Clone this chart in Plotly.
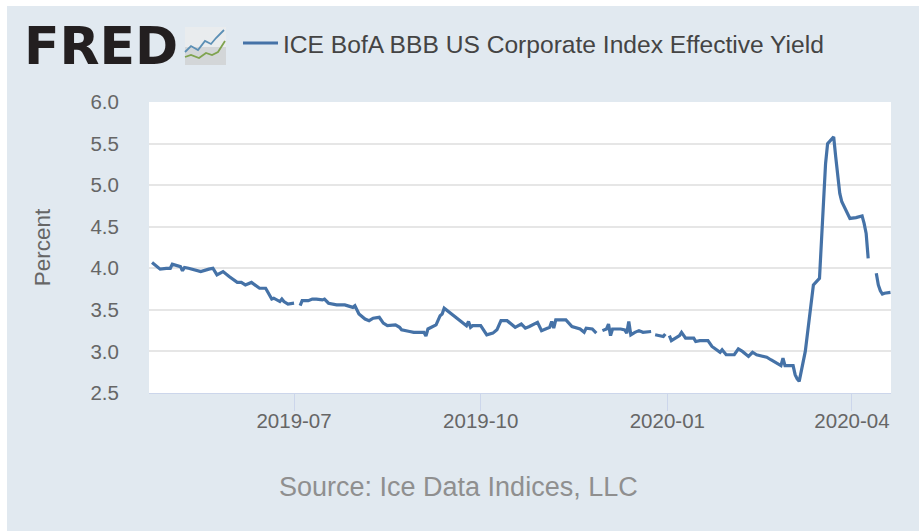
import plotly.graph_objects as go

dates = ["2019-04-22","2019-04-23","2019-04-24","2019-04-25","2019-04-26","2019-04-29","2019-05-01","2019-05-02","2019-05-03","2019-05-06","2019-05-07","2019-05-08","2019-05-10","2019-05-13","2019-05-16","2019-05-20","2019-05-22","2019-05-24","2019-05-27","2019-05-30","2019-06-03","2019-06-05","2019-06-07","2019-06-10","2019-06-12","2019-06-14","2019-06-17","2019-06-19","2019-06-20","2019-06-21","2019-06-24","2019-06-25","2019-06-26","2019-06-28","2019-07-01","2019-07-03","2019-07-04","2019-07-05","2019-07-08","2019-07-10","2019-07-12","2019-07-15","2019-07-16","2019-07-18","2019-07-22","2019-07-26","2019-07-30","2019-07-31","2019-08-02","2019-08-05","2019-08-07","2019-08-09","2019-08-12","2019-08-13","2019-08-14","2019-08-16","2019-08-20","2019-08-22","2019-08-23","2019-08-27","2019-08-29","2019-09-03","2019-09-04","2019-09-05","2019-09-09","2019-09-11","2019-09-12","2019-09-13","2019-09-17","2019-09-20","2019-09-24","2019-09-25","2019-09-26","2019-09-27","2019-10-01","2019-10-04","2019-10-07","2019-10-09","2019-10-11","2019-10-14","2019-10-18","2019-10-21","2019-10-23","2019-10-25","2019-10-29","2019-10-31","2019-11-04","2019-11-05","2019-11-06","2019-11-07","2019-11-12","2019-11-15","2019-11-19","2019-11-21","2019-11-22","2019-11-25","2019-11-27","2019-11-28","2019-11-30","2019-12-02","2019-12-03","2019-12-04","2019-12-05","2019-12-09","2019-12-11","2019-12-12","2019-12-13","2019-12-14","2019-12-16","2019-12-18","2019-12-20","2019-12-24","2019-12-25","2019-12-26","2019-12-30","2019-12-31","2020-01-01","2020-01-02","2020-01-03","2020-01-07","2020-01-08","2020-01-10","2020-01-14","2020-01-15","2020-01-17","2020-01-21","2020-01-23","2020-01-27","2020-01-28","2020-01-30","2020-02-03","2020-02-05","2020-02-07","2020-02-10","2020-02-12","2020-02-14","2020-02-19","2020-02-21","2020-02-25","2020-02-26","2020-02-27","2020-02-28","2020-03-03","2020-03-04","2020-03-05","2020-03-06","2020-03-09","2020-03-10","2020-03-11","2020-03-12","2020-03-13","2020-03-16","2020-03-17","2020-03-18","2020-03-19","2020-03-20","2020-03-23","2020-03-24","2020-03-25","2020-03-26","2020-03-27","2020-03-30","2020-03-31","2020-04-03","2020-04-06","2020-04-07","2020-04-08","2020-04-09","2020-04-10","2020-04-13","2020-04-14","2020-04-15","2020-04-16","2020-04-17","2020-04-20"]
yields = [4.07,4.05,4.02,4.00,3.99,4.00,4.00,4.05,4.04,4.02,3.97,4.01,4.00,3.98,3.96,3.99,4.00,3.92,3.96,3.90,3.83,3.83,3.80,3.83,3.80,3.76,3.76,3.68,3.63,3.64,3.60,3.63,3.60,3.57,3.58,None,3.55,3.61,3.61,3.63,3.63,3.62,3.63,3.58,3.56,3.56,3.53,3.55,3.45,3.39,3.37,3.40,3.41,3.38,3.34,3.31,3.32,3.29,3.26,3.24,3.23,3.23,3.185,3.27,3.32,3.43,3.45,3.52,3.44,3.38,3.31,3.36,3.29,3.31,3.31,3.20,3.22,3.26,3.37,3.37,3.29,3.33,3.28,3.30,3.35,3.25,3.29,3.36,3.28,3.38,3.38,3.30,3.27,3.23,3.28,3.27,3.22,None,3.25,3.27,3.33,3.19,3.27,3.27,3.26,3.22,3.36,3.20,3.23,3.25,3.23,3.24,None,3.20,3.18,3.21,None,3.19,3.13,3.19,3.23,3.16,3.16,3.12,3.13,3.13,3.06,2.99,3.02,2.96,2.96,3.03,3.00,2.94,2.99,2.96,2.93,2.90,2.85,2.83,2.92,2.83,2.83,2.72,2.67,2.64,3.00,3.22,3.38,3.66,3.80,3.88,4.38,4.94,5.26,5.50,5.58,5.34,5.10,4.90,4.80,4.66,4.60,4.61,4.63,4.54,4.42,4.12,None,3.94,3.80,3.73,3.69,3.70,3.71]

series_name = "ICE BofA BBB US Corporate Index Effective Yield"
y_label = "Percent"
y_ticks = [2.5,3.0,3.5,4.0,4.5,5.0,5.5,6.0]
y_tick_labels = ["2.5","3.0","3.5","4.0","4.5","5.0","5.5","6.0"]
x_ticks = ["2019-07-01","2019-10-01","2020-01-01","2020-04-01"]
x_tick_labels = ["2019-07","2019-10","2020-01","2020-04"]
source_text = "Source: Ice Data Indices, LLC"

W, H = 919, 531
L, R, T, B = 149, 891, 102, 393
BG = "#e1e9f0"
FONT = "Liberation Sans"

def px(x): return (x - L) / (R - L)
def py(y): return (B - y) / (B - T)

fig = go.Figure(go.Scatter(x=dates, y=yields, mode="lines", name=series_name,
                           line=dict(color="#4572a7", width=3.2), connectgaps=False,
                           showlegend=True))

shapes = [
    dict(type="rect", xref="paper", yref="paper", x0=px(7), x1=px(W), y0=py(H), y1=py(6),
         fillcolor=BG, line_width=0, layer="below"),
    dict(type="rect", xref="paper", yref="paper", x0=px(L), x1=px(R), y0=py(B), y1=py(T),
         fillcolor="#ffffff", line_width=0, layer="below"),
    dict(type="rect", xref="paper", yref="paper", x0=px(185), x1=px(226), y0=py(65), y1=py(47),
         fillcolor="#d3d6d8", line_width=0),
    dict(type="rect", xref="paper", yref="paper", x0=px(185), x1=px(226), y0=py(47), y1=py(27),
         fillcolor="#e9ecee", line_width=0),
]
def logo_line(xs, ys, color):
    d = "M " + " L ".join(f"{px(a):.5f},{py(b):.5f}" for a, b in zip(xs, ys))
    return dict(type="path", xref="paper", yref="paper", path=d, line=dict(color=color, width=1.8))
shapes.append(logo_line([185,191,198,205,211,216,224],[52,46,50,41,44,38,30],"#5b8fb5"))
shapes.append(logo_line([185,191,199,206,212,218,225],[57,55,58,53,55,52,41],"#7fa34f"))

annotations = [
    dict(text="<b>FRED</b>", x=px(22), y=py(46), xref="paper", yref="paper", xanchor="left", yanchor="middle",
         showarrow=False, font=dict(family="DejaVu Sans", size=52, color="#231f20")),
    dict(text=source_text, x=px(458), y=py(487), xref="paper", yref="paper", xanchor="center", yanchor="middle",
         showarrow=False, font=dict(family=FONT, size=27, color="#8f8f8f")),
]

fig.update_layout(
    width=W, height=H, autosize=False,
    paper_bgcolor="#ffffff", plot_bgcolor="rgba(0,0,0,0)",
    margin=dict(l=L, r=W-R, t=T, b=H-B, pad=0),
    font=dict(family=FONT),
    shapes=shapes, annotations=annotations,
    legend=dict(x=px(238), y=py(43), xanchor="left", yanchor="middle", bgcolor="rgba(0,0,0,0)",
                font=dict(family=FONT, size=24.6, color="#444444"), itemwidth=35, orientation="h"),
    xaxis=dict(type="date", range=["2019-04-20 12:00","2020-04-20 06:00"], tickvals=x_ticks, ticktext=x_tick_labels,
               showgrid=False, showline=True, linecolor="#ccd6eb", linewidth=1,
               ticks="outside", ticklen=17, tickcolor="#ccd6eb", tickwidth=1, ticklabelstandoff=-8,
               tickfont=dict(size=20.5, color="#666666", family=FONT), zeroline=False),
    yaxis=dict(range=[2.5,6.0], tickvals=y_ticks, ticktext=y_tick_labels,
               showgrid=True, gridcolor="#e6e6e6", gridwidth=1.5, zeroline=False, showline=False,
               ticks="outside", ticklen=25, tickcolor="rgba(0,0,0,0)",
               tickfont=dict(size=20.5, color="#666666", family=FONT),
               title=dict(text=y_label, font=dict(size=22.5, color="#666666", family=FONT), standoff=33)),
)
fig.write_html("out.html", config=dict(displayModeBar=False),
               post_script="document.documentElement.style.overflow='hidden';document.body.style.margin='0';")
